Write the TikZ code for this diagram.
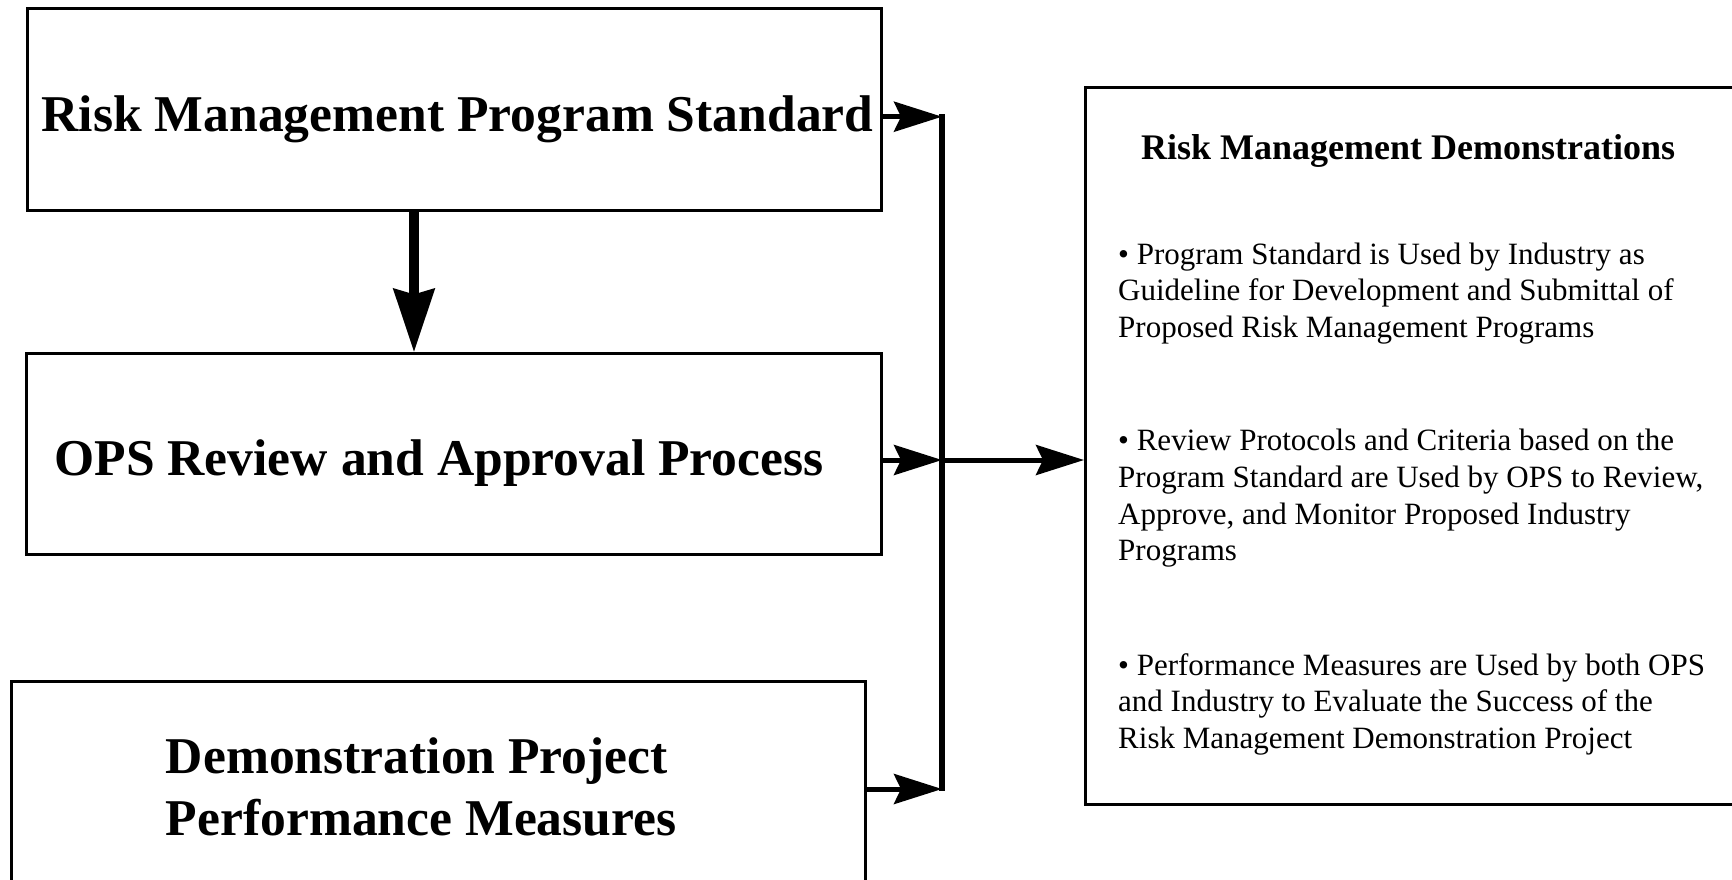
\documentclass[tikz,border=0pt]{standalone}
\usepackage{fontspec}
\setmainfont{Liberation Serif}
\usetikzlibrary{arrows.meta}
\begin{document}
\begin{tikzpicture}[x=1pt,y=-1pt,
  box/.style={draw, line width=3pt, inner sep=0pt, anchor=north west},
  bigtext/.style={anchor=base west, inner sep=0pt, font=\fontsize{51.6}{61.7}\selectfont\bfseries},
  headtext/.style={anchor=base west, inner sep=0pt, font=\fontsize{36}{42}\selectfont\bfseries},
  bodytext/.style={anchor=base west, inner sep=0pt, font=\fontsize{31}{36.7}\selectfont},
  feed/.style={line width=5pt, -{Stealth[length=48pt,width=30pt,inset=7pt]}},
  busline/.style={line width=6pt},
  drop/.style={line width=10pt, -{Stealth[length=63pt,width=40pt,inset=5pt]}}
]
\useasboundingbox (0,0) rectangle (1732,879);
\clip (0,0) rectangle (1732,879);

% left-hand boxes
\node[box, minimum width=854.5pt, minimum height=201.7pt] (rmps) at (25.5,7.3) {};
\node[box, minimum width=855pt, minimum height=200.6pt] (ops) at (25,352.4) {};
\node[box, minimum width=854pt, minimum height=260pt] (pm) at (10,680) {};

% right-hand summary box
\node[box, minimum width=700pt, minimum height=717pt] (demo) at (1084,86) {};

% box labels
\node[bigtext] (t1) at (41.5,131.7) {Risk Management Program Standard};
\node[bigtext] (t2) at (54.2,475.4) {OPS Review and Approval Process};
\node[bigtext] (t3) at (165.7,773.3) {\parbox[t]{700pt}{Demonstration Project\\Performance Measures}};

\node[headtext] (title) at (1141,159) {Risk Management Demonstrations};
\node[bodytext] (b1) at (1118,264) {\parbox[t]{620pt}{• Program Standard is Used by Industry as\\Guideline for Development and Submittal of\\Proposed Risk Management Programs}};
\node[bodytext] (b2) at (1118,450.7) {\parbox[t]{620pt}{• Review Protocols and Criteria based on the\\Program Standard are Used by OPS to Review,\\Approve, and Monitor Proposed Industry\\Programs}};
\node[bodytext] (b3) at (1118,675) {\parbox[t]{620pt}{• Performance Measures are Used by both OPS\\and Industry to Evaluate the Success of the\\Risk Management Demonstration Project}};

% collecting bus
\coordinate (bt) at (942,114);
\coordinate (bb) at (942,791);
\coordinate (a1) at (942,116.7);
\coordinate (bm) at (942,460);
\coordinate (a3) at (942,789);
\coordinate (dx) at (414,0);

\draw[busline] (bt) -- (bb);

% connectors
\draw[drop] (rmps.south -| dx) -- (ops.north -| dx);
\draw[feed] (rmps.east |- a1) -- (a1);
\draw[feed] (ops.east |- bm) -- (bm);
\draw[feed] (pm.east |- a3) -- (a3);
\draw[feed] (bm) -- (demo.west |- bm);
\end{tikzpicture}
\end{document}
